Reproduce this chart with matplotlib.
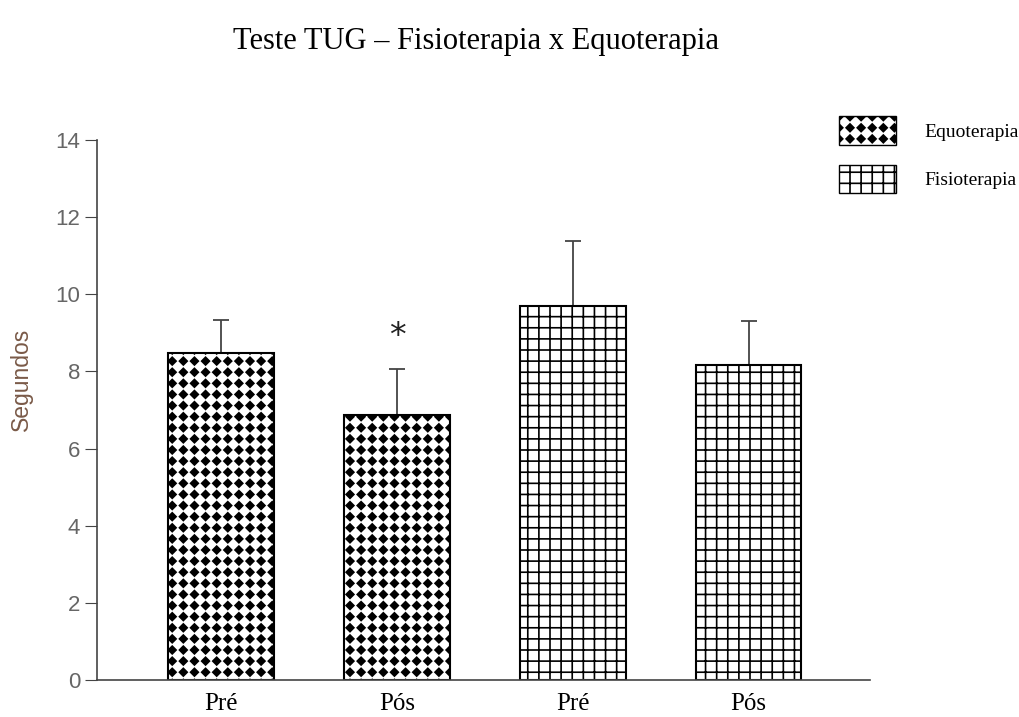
import numpy as np
import matplotlib
matplotlib.use('Agg')
import matplotlib.pyplot as plt
import matplotlib.hatch as mhatch
from matplotlib.path import Path
from matplotlib.patches import Patch
from matplotlib.backend_bases import GraphicsContextBase

# data
labels = ['Pré', 'Pós', 'Pré', 'Pós']
grupo = ['Equoterapia', 'Equoterapia', 'Fisioterapia', 'Fisioterapia']
media = [8.48, 6.87, 9.70, 8.17]
erro = [0.85, 1.19, 1.68, 1.14]


# SigmaPlot-like diamond fill: replace the star hatch with a square grid of diamonds
class Diamonds(mhatch.HatchPatternBase):
    def __init__(self, hatch, density):
        self.num_rows = hatch.count('*') * density
        self.num_vertices = self.num_rows ** 2 * 5

    def set_vertices_and_codes(self, vertices, codes):
        n = self.num_rows
        r = 0.35 / n
        c = (np.arange(n) + 0.5) / n
        cx, cy = [a.ravel() for a in np.meshgrid(c, c)]
        shape = np.array([[0, r], [-r, 0], [0, -r], [r, 0], [0, r]])
        pts = np.stack([cx, cy], 1)[:, None, :] + shape[None]
        vertices[:] = pts.reshape(-1, 2)
        codes[:] = np.tile([Path.MOVETO, Path.LINETO, Path.LINETO,
                            Path.LINETO, Path.CLOSEPOLY], n * n)


mhatch._hatch_types = [t for t in mhatch._hatch_types if t is not mhatch.Stars] + [Diamonds]
_orig_hatch = GraphicsContextBase.get_hatch_path
GraphicsContextBase.get_hatch_path = lambda self, density=9.0: _orig_hatch(self, 9.0)

plt.rcParams['hatch.linewidth'] = 1.2
hatches = {'Equoterapia': '*', 'Fisioterapia': '+'}

fig = plt.figure(figsize=(10.19, 7.17), dpi=100)
ax = fig.add_axes([0.0952, 0.0516, 0.7586, 0.7531])

x = np.arange(len(media))
ax.bar(x, media, width=0.6, color='white', edgecolor='black', linewidth=1.5,
       hatch=[hatches[g] for g in grupo], zorder=2)
ax.errorbar(x, media, yerr=[np.zeros(len(erro)), erro], fmt='none', ecolor='#444444',
            elinewidth=1.3, capsize=6, capthick=1.3, zorder=1)
ax.text(1, 8.9, '*', ha='center', va='center', fontsize=24, color='#222222')

ax.set_xlim(-0.705, 3.69)
ax.set_ylim(0, 14)
ax.set_yticks(range(0, 15, 2))
ax.set_xticks(x)
ax.set_xticklabels(labels, family='Liberation Serif', fontsize=18)
ax.tick_params(axis='x', length=0, pad=9)
ax.tick_params(axis='y', length=9, color='#444444', labelcolor='#666666', labelsize=16, pad=3)
for lab in ax.get_yticklabels():
    lab.set_family('Liberation Sans')
for s in ['top', 'right']:
    ax.spines[s].set_visible(False)
for s in ['left', 'bottom']:
    ax.spines[s].set_color('#444444')
    ax.spines[s].set_linewidth(1.2)

ax.set_ylabel('Segundos', family='Liberation Sans', fontsize=16.5, color='#7a5a48')
ax.yaxis.set_label_coords(-0.083, 0.556)

fig.text(0.467, 0.942, 'Teste TUG \u2013 Fisioterapia x Equoterapia', ha='center', va='center',
         family='Liberation Serif', fontsize=22)

handles = [Patch(facecolor='white', edgecolor='black', hatch=hatches[g], label=g)
           for g in ['Equoterapia', 'Fisioterapia']]
fig.legend(handles=handles, loc='upper left', bbox_to_anchor=(0.806, 0.862), frameon=False,
           prop={'family': 'Liberation Serif', 'size': 14}, handlelength=2.95, handleheight=1.85,
           labelspacing=1.05, handletextpad=1.45)

fig.savefig('out.png', dpi=100)
